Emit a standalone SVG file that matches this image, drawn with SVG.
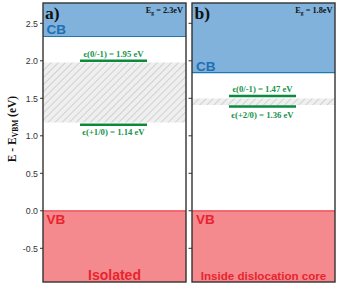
<svg xmlns="http://www.w3.org/2000/svg" width="344" height="291" viewBox="0 0 344 291">
<defs>
<pattern id="hatch" patternUnits="userSpaceOnUse" width="5" height="5" patternTransform="rotate(45)">
<rect width="5" height="5" fill="#efefef"/>
<line x1="0" y1="0" x2="0" y2="5" stroke="#b4b4b4" stroke-width="1"/>
</pattern>
</defs>
<style>
.cb{fill:#80b2dc}
.cbl{stroke:#1f77b4;stroke-width:1.2}
.vb{fill:#f48a8e}
.vbl{stroke:#f0434c;stroke-width:1.2}
.frame{fill:none;stroke:#333;stroke-width:1.4}
.lvl{stroke:#0b8a3e;stroke-width:2.6}
.lt{font-family:"Liberation Serif",serif;font-weight:bold;font-size:8.7px;fill:#14934a;text-anchor:middle}
.band{font-family:"Liberation Sans",Arial,sans-serif;font-weight:bold;font-size:13.5px}
.cbt{fill:#1f6fb4}
.vbt{fill:#e8242e}
.title{font-family:"Liberation Serif",serif;font-weight:bold;font-size:17.5px;fill:#111}
.eg{font-family:"Liberation Serif",serif;font-weight:bold;font-size:8.3px;fill:#111;text-anchor:end}
.tick{stroke:#333;stroke-width:1}
.tl{font-family:"Liberation Sans",Arial,sans-serif;font-size:8.8px;fill:#333;text-anchor:end}
.yl{font-family:"Liberation Serif",serif;font-weight:bold;font-size:11.5px;fill:#111;text-anchor:middle}
</style>
<rect width="344" height="291" fill="#fff"/>
<g id="panel-a">
<rect x="43" y="3" width="143" height="279" fill="#fff"/>
<rect class="cb" x="43" y="3" width="143" height="33.5"/>
<line class="cbl" x1="43" y1="36.5" x2="186" y2="36.5"/>
<rect x="43" y="62.5" width="143" height="60" fill="url(#hatch)"/>
<rect class="vb" x="43" y="210.8" width="143" height="71.2"/>
<line class="vbl" x1="43" y1="210.8" x2="186" y2="210.8"/>
<rect class="frame" x="43" y="3" width="143" height="279"/>
<text class="title" x="45" y="18.5">a)</text>
<text class="eg" x="183" y="13">E<tspan font-size="5.5px" dy="2">g</tspan><tspan dy="-2"> = 2.3eV</tspan></text>
<text class="band cbt" x="46.5" y="34">CB</text>
<text class="band vbt" x="46.5" y="223.5">VB</text>
<text class="band vbt" x="114.5" y="280" text-anchor="middle" style="font-size:14px">Isolated</text>
</g>
<g id="panel-b">
<rect x="192" y="3" width="143" height="279" fill="#fff"/>
<rect class="cb" x="192" y="3" width="143" height="69.7"/>
<line class="cbl" x1="192" y1="72.7" x2="335" y2="72.7"/>
<rect x="192" y="98.5" width="143" height="6.5" fill="url(#hatch)"/>
<rect class="vb" x="192" y="210.8" width="143" height="71.2"/>
<line class="vbl" x1="192" y1="210.8" x2="335" y2="210.8"/>
<rect class="frame" x="192" y="3" width="143" height="279"/>
<text class="title" x="194.5" y="18.5">b)</text>
<text class="eg" x="332.5" y="13">E<tspan font-size="5.5px" dy="2">g</tspan><tspan dy="-2"> = 1.8eV</tspan></text>
<text class="band cbt" x="196" y="70.5">CB</text>
<text class="band vbt" x="196" y="223.5">VB</text>
<text class="band vbt" x="263.5" y="280" text-anchor="middle" style="font-size:11.6px">Inside dislocation core</text>
</g>
<g id="levels">
<line class="lvl" x1="80" y1="60.8" x2="147" y2="60.8"/>
<text class="lt" x="113.5" y="57">ϵ(0/-1) = 1.95 eV</text>
<line class="lvl" x1="80" y1="124.7" x2="147" y2="124.7"/>
<text class="lt" x="113.5" y="134.5">ϵ(+1/0) = 1.14 eV</text>
<line class="lvl" x1="229" y1="96" x2="296" y2="96"/>
<text class="lt" x="262.5" y="92.3">ϵ(0/-1) = 1.47 eV</text>
<line class="lvl" x1="229" y1="106.5" x2="296" y2="106.5"/>
<text class="lt" x="262.5" y="117.5">ϵ(+2/0) = 1.36 eV</text>
</g>
<g id="axis">
<g class="tick">
<line x1="40" y1="23.3" x2="43" y2="23.3"/>
<line x1="40" y1="60.8" x2="43" y2="60.8"/>
<line x1="40" y1="98.3" x2="43" y2="98.3"/>
<line x1="40" y1="135.8" x2="43" y2="135.8"/>
<line x1="40" y1="173.3" x2="43" y2="173.3"/>
<line x1="40" y1="210.8" x2="43" y2="210.8"/>
<line x1="40" y1="248.3" x2="43" y2="248.3"/>
<line x1="188.5" y1="23.3" x2="192" y2="23.3"/>
<line x1="188.5" y1="60.8" x2="192" y2="60.8"/>
<line x1="188.5" y1="98.3" x2="192" y2="98.3"/>
<line x1="188.5" y1="135.8" x2="192" y2="135.8"/>
<line x1="188.5" y1="173.3" x2="192" y2="173.3"/>
<line x1="188.5" y1="210.8" x2="192" y2="210.8"/>
<line x1="188.5" y1="248.3" x2="192" y2="248.3"/>
</g>
<text class="tl" x="38" y="26.5">2.5</text>
<text class="tl" x="38" y="64">2.0</text>
<text class="tl" x="38" y="101.5">1.5</text>
<text class="tl" x="38" y="139">1.0</text>
<text class="tl" x="38" y="176.5">0.5</text>
<text class="tl" x="38" y="214">0.0</text>
<text class="tl" x="38" y="251.5">-0.5</text>
<text class="yl" transform="translate(15.5,129) rotate(-90)">E - E<tspan font-size="7.5px" dy="2.5">VBM</tspan><tspan dy="-2.5"> (eV)</tspan></text>
</g>
</svg>
